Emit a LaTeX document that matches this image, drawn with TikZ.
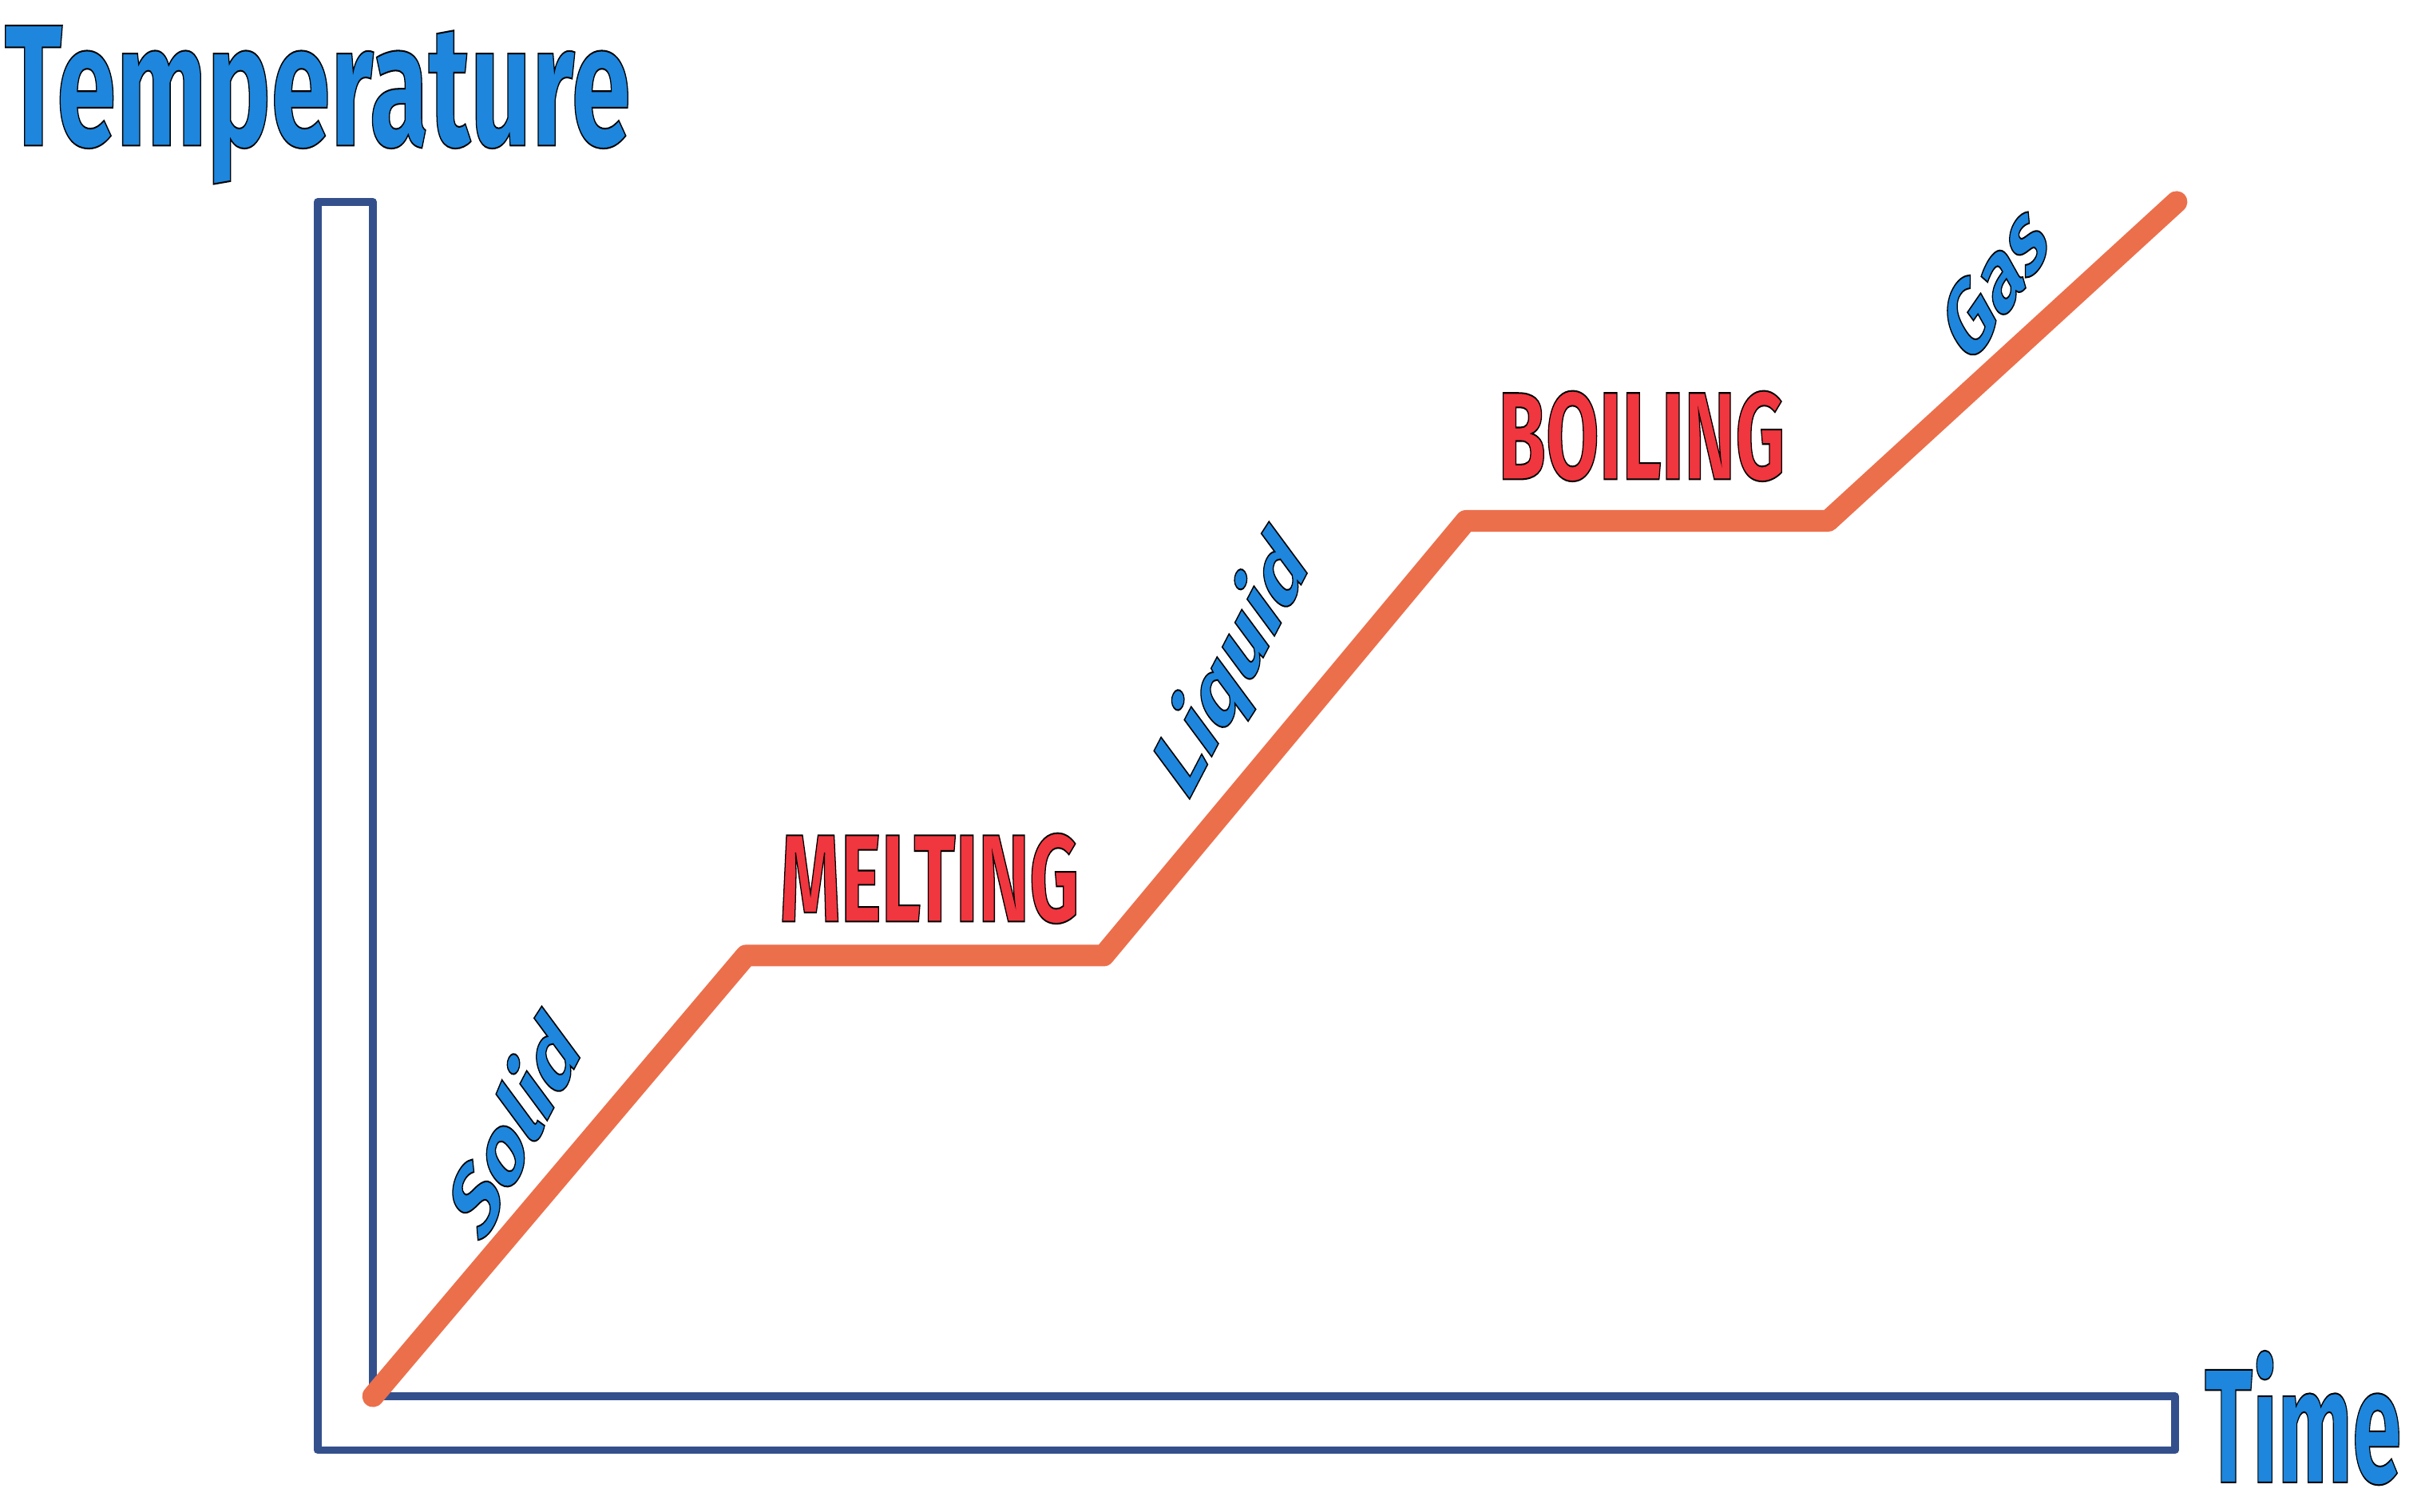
\documentclass[tikz,border=0pt]{standalone}
\usepackage{fontspec}
\setmainfont{Fira Sans}
\newcommand{\outl}[1]{\special{pdf:code 2 Tr 0 G 1.5 w}#1\special{pdf:code 0 Tr}}
\begin{document}
\begin{tikzpicture}[x=0.5mm,y=-0.5mm,
  ax/.style={draw=axblue,line width=2.5mm,line join=round},
  curve/.style={draw=curveor,line width=7mm,line cap=round,line join=round},
  lbl/.style={text=lblblue,font=\fontsize{100}{100}\selectfont\bfseries,xscale=0.62,transform shape,inner sep=0},
  phase/.style={text=phred,font=\fontsize{115}{115}\selectfont\bfseries,xscale=0.62,transform shape,inner sep=0}]
\definecolor{axblue}{HTML}{34508C}
\definecolor{curveor}{HTML}{EC6F4B}
\definecolor{lblblue}{HTML}{1E86DC}
\definecolor{phred}{HTML}{F0363F}
\useasboundingbox (0,0) rectangle (1568,981);
\fill[white] (0,0) rectangle (1568,981);
\draw[ax] (206,131) -- (242,131) -- (242,906) -- (1411,906) -- (1411,941) -- (206,941) -- cycle;
\coordinate (p0) at (242,906);
\coordinate (p1) at (484,620);
\coordinate (p2) at (716,620);
\coordinate (p3) at (951,338);
\coordinate (p4) at (1186,338);
\coordinate (p5) at (1412,131);
\draw[curve] (p0) -- (p1) -- (p2) -- (p3) -- (p4) -- (p5);
\node[lbl,font=\fontsize{160}{160}\selectfont\bfseries] (temp) at (206,68) {\outl{Temperature}};
\node[lbl,font=\fontsize{150}{150}\selectfont\bfseries,xscale=0.88] (time) at (1494,920) {\outl{Time}};
\node[lbl,rotate=50] (solid) at (332,728) {\outl{Solid}};
\node[lbl,rotate=50] (liquid) at (800,432) {\outl{Liquid}};
\node[lbl,rotate=42] (gas) at (1294,182) {\outl{Gas}};
\node[phase] (melt) at (603,570) {\outl{MELTING}};
\node[phase] (boil) at (1065,283) {\outl{BOILING}};
\end{tikzpicture}
\end{document}
